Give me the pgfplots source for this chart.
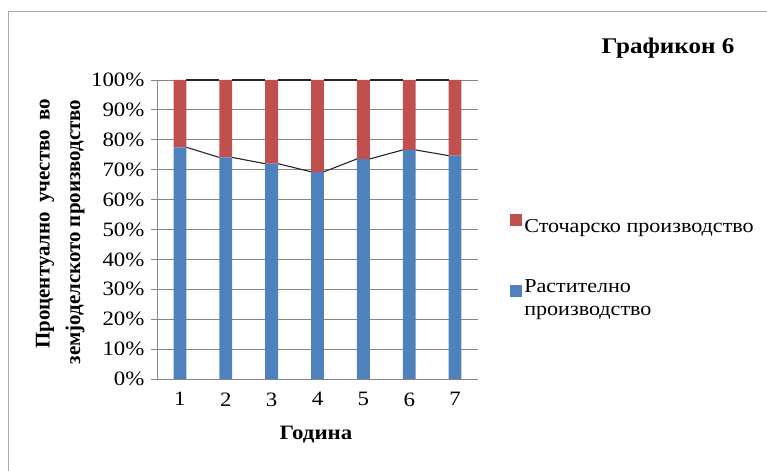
\documentclass[border=0pt]{standalone}
\usepackage{pgfplots}
\pgfplotsset{compat=1.18}
\usepackage{fontspec}
\setmainfont{Liberation Serif}[FakeStretch=1.12]
\newfontfamily\ylabfont{Liberation Serif}
\definecolor{xlblue}{RGB}{79,129,189}
\definecolor{xlred}{RGB}{192,80,77}
\definecolor{xlgrid}{RGB}{134,134,134}
\begin{document}
\begin{tikzpicture}[x=1bp,y=1bp]
\path[use as bounding box] (0,0) rectangle (767,471);
\draw[xlgrid!70,line width=1bp] (8,0) -- (8,459) -- (767,459);

\begin{axis}[
    at={(157bp,92bp)}, anchor=south west,
    width=321bp, height=299bp, scale only axis,
    xmin=0.5, xmax=7.5, ymin=0, ymax=100,
    ybar stacked, bar width=0.28,
    axis x line=bottom, axis y line=left,
    axis line style={-,xlgrid,line width=0.9bp},
    xtick={1,...,7}, ytick={0,10,...,100},
    xtick style={draw=none},
    ytick style={xlgrid,line width=0.9bp},
    ytick align=outside, major tick length=6bp,
    ymajorgrids, grid style={xlgrid,line width=0.9bp},
    /pgf/number format/assume math mode=true,
    yticklabel={\pgfmathprintnumber{\tick}\%},
    tick label style={font=\fontsize{20.5}{23}\selectfont},
    xticklabel style={yshift=-7bp},
    yticklabel style={xshift=-3bp},
    reverse legend,
    legend style={at={(1.10,0.553)}, anchor=north west, draw=none, fill=none,
        inner sep=0pt, row sep=41bp, font=\fontsize{19.8}{24}\selectfont,
        cells={anchor=west, align=left},
        nodes={inner sep=2bp}},
    legend image code/.code={\fill[#1,draw=none] (0bp,1bp) rectangle (12bp,13bp);},
]
\addplot[fill=xlblue, draw=none] coordinates {
    (1,77.5) (2,74.1) (3,72.0) (4,69.3) (5,73.6) (6,76.6) (7,74.7)};
\addlegendentry{Растително\\производство}
\addplot[fill=xlred, draw=none] coordinates {
    (1,22.5) (2,25.9) (3,28.0) (4,30.7) (5,26.4) (6,23.4) (7,25.3)};
\addlegendentry{Сточарско производство}
\end{axis}

% series lines
\begin{axis}[
    at={(157bp,92bp)}, anchor=south west,
    width=321bp, height=299bp, scale only axis,
    xmin=0.5, xmax=7.5, ymin=0, ymax=100,
    axis lines=none, unbounded coords=jump,
]
\addplot[black!85,line width=1.1bp] coordinates {
    (1.14,77.5) (1.86,74.1) (nan,nan)
    (2.14,74.1) (2.86,72.0) (nan,nan)
    (3.14,72.0) (3.86,69.3) (nan,nan)
    (4.14,69.3) (4.86,73.6) (nan,nan)
    (5.14,73.6) (5.86,76.6) (nan,nan)
    (6.14,76.6) (6.86,74.7)};
\addplot[black!85,line width=1.1bp] coordinates {
    (1.14,100) (1.86,100) (nan,nan)
    (2.14,100) (2.86,100) (nan,nan)
    (3.14,100) (3.86,100) (nan,nan)
    (4.14,100) (4.86,100) (nan,nan)
    (5.14,100) (5.86,100) (nan,nan)
    (6.14,100) (6.86,100)};
\end{axis}

\node[font=\bfseries\fontsize{22.5}{26}\selectfont] at (668,423) {Графикон 6};
\node[font=\bfseries\fontsize{20.5}{24}\selectfont] at (316,36) {Година};
\node[rotate=90,font=\ylabfont\bfseries\fontsize{21}{24}\selectfont] at (45,247) {Процентуално\hspace{9bp}учество\hspace{9bp}во};
\node[rotate=90,font=\ylabfont\bfseries\fontsize{21}{24}\selectfont] at (75,239) {земјоделското производство};
\end{tikzpicture}
\end{document}
